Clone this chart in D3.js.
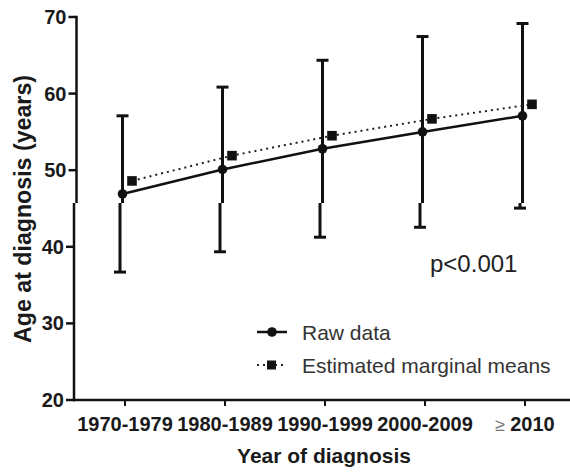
<!DOCTYPE html>
<html>
<head>
<meta charset="utf-8">
<script src="https://cdn.jsdelivr.net/npm/d3@7"></script>
<style>
  html, body { margin: 0; padding: 0; background: #fff; }
  svg { display: block; font-family: "Liberation Sans", Arial, sans-serif; }
</style>
</head>
<body>
<svg id="chart" width="570" height="475"></svg>
<script>
// ---- data ----
const categories = ["1970-1979", "1980-1989", "1990-1999", "2000-2009", "≥ 2010"];
const rawMean = [46.9, 50.1, 52.8, 55.0, 57.1];
const rawSD = [10.2, 10.75, 11.55, 12.45, 12.05];
const estMean = [48.6, 51.9, 54.5, 56.7, 58.6];
const yTicks = [20, 30, 40, 50, 60, 70];
const seriesNames = ["Raw data", "Estimated marginal means"];
const pLabel = "p<0.001";
const xTitle = "Year of diagnosis";
const yTitle = "Age at diagnosis (years)";

const svg = d3.select("#chart");
const x = d3.scalePoint().domain(categories).range([125, 525]);
const y = d3.scaleLinear().domain([20, 70]).range([400, 17]);

const splitPx = 203;   // the picture is slightly offset above this line
const dxUp = 2.5;      // horizontal shift of upper part
const rawOff = -5, estOff = 4.5;
const ink = "#111";

const upper = svg.append("g").attr("transform", `translate(${dxUp},0)`);
const lower = svg.append("g");

// ---- axes ----
const axX = 74;
lower.append("line").attr("x1", axX).attr("x2", axX).attr("y1", splitPx).attr("y2", y(20) + 1.2)
  .attr("stroke", ink).attr("stroke-width", 2.5);
upper.append("line").attr("x1", axX).attr("x2", axX).attr("y1", y(70) - 1.2).attr("y2", splitPx)
  .attr("stroke", ink).attr("stroke-width", 2.5);
lower.append("line").attr("x1", axX - 1).attr("x2", 575).attr("y1", y(20)).attr("y2", y(20))
  .attr("stroke", ink).attr("stroke-width", 2.5);

yTicks.forEach(t => {
  const g = y(t) < splitPx ? upper : lower;
  g.append("line").attr("x1", axX - 8).attr("x2", axX).attr("y1", y(t)).attr("y2", y(t))
    .attr("stroke", ink).attr("stroke-width", 2.5);
  g.append("text").attr("x", axX - 10).attr("y", y(t)).attr("text-anchor", "end")
    .attr("dominant-baseline", "central").attr("font-size", 20).attr("font-weight", "bold")
    .attr("fill", "#1a1a1a").text(t);
});

categories.forEach((c, i) => {
  lower.append("line").attr("x1", x(c)).attr("x2", x(c)).attr("y1", y(20)).attr("y2", y(20) + 6)
    .attr("stroke", ink).attr("stroke-width", 2);
  const t = lower.append("text").attr("x", x(c)).attr("y", 431).attr("text-anchor", "middle")
    .attr("font-size", 20).attr("font-weight", "bold").attr("fill", "#1a1a1a");
  if (c.startsWith("≥")) {
    t.append("tspan").attr("font-weight", "normal").attr("fill", "#777").attr("font-size", 18).text("≥ ");
    t.append("tspan").text(c.replace("≥ ", ""));
  } else {
    t.text(c);
  }
});

// titles
svg.append("text").attr("transform", `translate(31,209) rotate(-90)`).attr("text-anchor", "middle")
  .attr("font-size", 23).attr("font-weight", "bold").attr("fill", "#1a1a1a")
  .attr("textLength", 268).attr("lengthAdjust", "spacingAndGlyphs").text(yTitle);
svg.append("text").attr("x", 324).attr("y", 463).attr("text-anchor", "middle")
  .attr("font-size", 21).attr("font-weight", "bold").attr("fill", "#1a1a1a").text(xTitle);

// ---- error bars (raw data, mean ± SD) ----
categories.forEach((c, i) => {
  const cx = x(c) + rawOff;
  const top = y(rawMean[i] + rawSD[i]);
  const bot = y(rawMean[i] - rawSD[i]);
  upper.append("line").attr("x1", cx).attr("x2", cx).attr("y1", top).attr("y2", splitPx)
    .attr("stroke", ink).attr("stroke-width", 3);
  upper.append("line").attr("x1", cx - 6).attr("x2", cx + 6).attr("y1", top).attr("y2", top)
    .attr("stroke", ink).attr("stroke-width", 3);
  lower.append("line").attr("x1", cx).attr("x2", cx).attr("y1", splitPx).attr("y2", bot)
    .attr("stroke", ink).attr("stroke-width", 3);
  lower.append("line").attr("x1", cx - 6).attr("x2", cx + 6).attr("y1", bot).attr("y2", bot)
    .attr("stroke", ink).attr("stroke-width", 3);
});

// ---- lines ----
const rawLine = d3.line().x((d, i) => x(categories[i]) + rawOff).y(d => y(d));
const estLine = d3.line().x((d, i) => x(categories[i]) + estOff).y(d => y(d));
upper.append("path").attr("d", estLine(estMean)).attr("fill", "none").attr("stroke", "#222")
  .attr("stroke-width", 2).attr("stroke-dasharray", "2,4");
upper.append("path").attr("d", rawLine(rawMean)).attr("fill", "none").attr("stroke", ink)
  .attr("stroke-width", 2.5);

// ---- markers ----
upper.selectAll(".raw").data(rawMean).enter().append("circle")
  .attr("cx", (d, i) => x(categories[i]) + rawOff).attr("cy", d => y(d)).attr("r", 4.8).attr("fill", ink);
upper.selectAll(".est").data(estMean).enter().append("rect")
  .attr("x", (d, i) => x(categories[i]) + estOff - 4.8).attr("y", d => y(d) - 4.8)
  .attr("width", 9.6).attr("height", 9.6).attr("fill", ink);

// ---- p value ----
svg.append("text").attr("x", 430).attr("y", 272).attr("font-size", 24).attr("fill", "#222").text(pLabel);

// ---- legend ----
const lg = svg.append("g");
lg.append("line").attr("x1", 257).attr("x2", 287).attr("y1", 332).attr("y2", 332)
  .attr("stroke", ink).attr("stroke-width", 2.5);
lg.append("circle").attr("cx", 272).attr("cy", 332).attr("r", 4.8).attr("fill", ink);
lg.append("text").attr("x", 302).attr("y", 339.5).attr("font-size", 21).attr("fill", "#333").text(seriesNames[0]);
lg.append("line").attr("x1", 257).attr("x2", 287).attr("y1", 365).attr("y2", 365)
  .attr("stroke", "#222").attr("stroke-width", 2).attr("stroke-dasharray", "2,4");
lg.append("rect").attr("x", 267).attr("y", 360.5).attr("width", 9).attr("height", 9).attr("fill", ink);
lg.append("text").attr("x", 302).attr("y", 372.5).attr("font-size", 21).attr("fill", "#333").text(seriesNames[1]);
</script>
</body>
</html>
